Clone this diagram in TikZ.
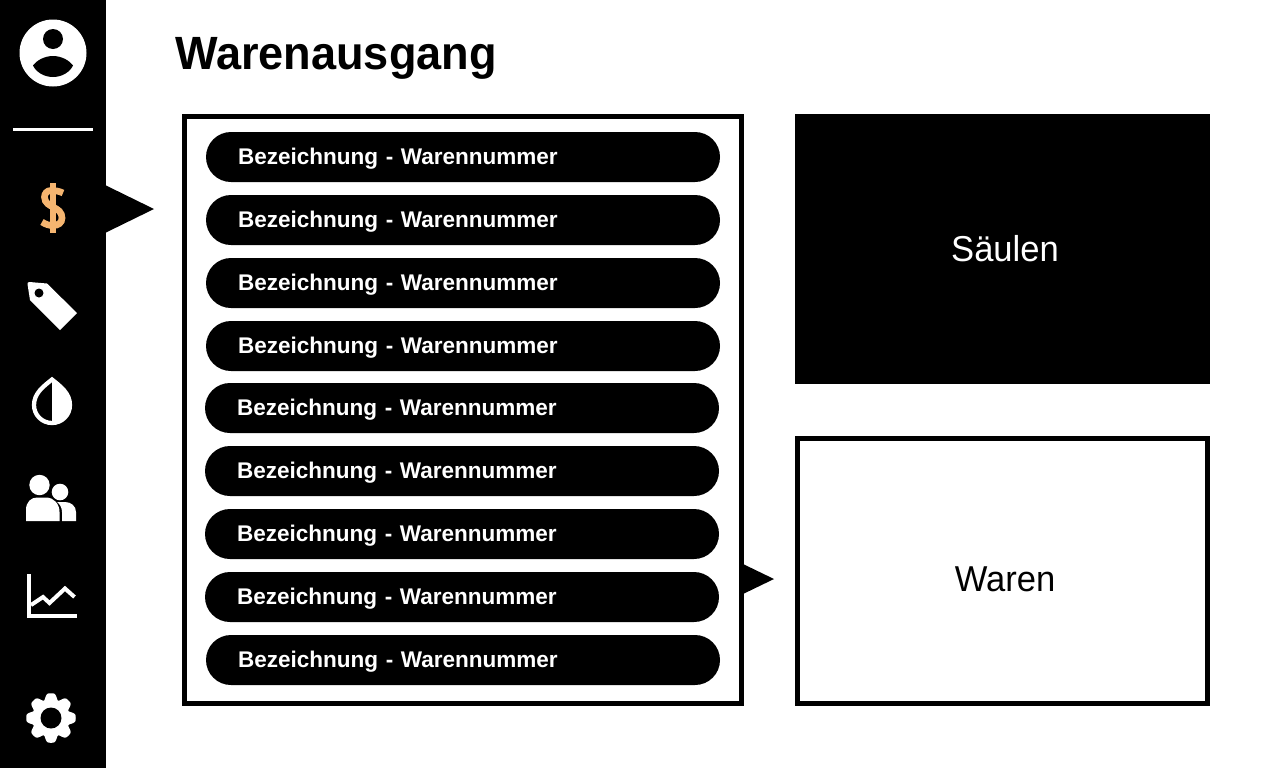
\documentclass[tikz,border=0pt]{standalone}
\usepackage{fontspec}
\setmainfont{Liberation Sans}
\newfontfamily\pillfont[FakeStretch=0.994]{Liberation Sans}
\newfontfamily\titlefont[FakeStretch=0.966]{Liberation Sans}
\newfontfamily\boxfont[FakeStretch=0.96]{Liberation Sans}
\definecolor{dollar}{HTML}{F5B570}
\tikzset{
  pill/.style={fill=black,text=white,rounded corners=18.75pt,minimum width=385.5pt,minimum height=37.5pt,
    text width=337.5pt,align=left,inner xsep=24pt,inner ysep=0pt,text height=11.5pt,text depth=0pt,
    font=\pillfont\fontsize{17pt}{18pt}\selectfont\bfseries},
  panel/.style={minimum width=311.25pt,minimum height=202.5pt,inner sep=0pt},
  panellabel/.style={anchor=base,inner sep=0pt,font=\boxfont\fontsize{27pt}{30pt}\selectfont},
  pointer/.style={fill=black,draw=none},
  icon/.style={fill=white,draw=none},
  iconline/.style={draw=white,fill=none},
}
\begin{document}
\begin{tikzpicture}[x=0.75pt,y=-0.75pt]
\useasboundingbox (0,0) rectangle (1280,768);
\fill[white] (0,0) rectangle (1280,768);
% sidebar
\fill[black] (0,0) rectangle (106,768);
\fill[pointer] (105,185) -- (154,209) -- (105,233) -- cycle;
% profile
\fill[icon] (53,53) circle (33.5);
\fill[black] (53,39) circle (10);
\fill[black] (33,65.5) .. controls (37,60) and (45,56) .. (53,56) .. controls (61,56) and (69,60) .. (73,65.5) .. controls (70,72) and (62,77) .. (53,77) .. controls (44,77) and (36,72) .. (33,65.5) -- cycle;
\fill[icon] (13,128) rectangle (93,131);
% dollar
\fill[dollar] (49.5,183) rectangle (56,233);
\draw[dollar,line width=5pt] (63,193) .. controls (59,191) and (55,190.5) .. (51,190.5) .. controls (47,190.5) and (44.5,193.5) .. (44.5,197) .. controls (44.5,203) and (50,205.5) .. (53,207) .. controls (58,209.5) and (62,212) .. (62,218) .. controls (62,223) and (58,225.5) .. (53,225.5) .. controls (49,225.5) and (46,224.5) .. (42,222);
% tag
\fill[icon] (29.5,282) -- (47,283.5) -- (77,313) -- (60,330) -- (30,300) -- (27.5,284) .. controls (27.3,282.8) and (28.2,281.9) .. (29.5,282) -- cycle;
\fill[black] (39,293) circle (4.5);
% drop
\path[draw=white,fill=black,line width=3.2pt] (52,379.5) .. controls (44,386) and (34,393) .. (34,405) .. controls (34,415) and (42,423) .. (52,423) .. controls (62,423) and (70,415) .. (70,405) .. controls (70,393) and (60,386) .. (52,379.5) -- cycle;
\fill[icon] (52,379.5) .. controls (60,386) and (70,393) .. (70,405) .. controls (70,415) and (62,423) .. (52,423) -- cycle;
% people
\fill[icon] (39.5,485) circle (10.2);
\fill[icon] (60,492) circle (8.3);
\fill[icon] (26,521) -- (26,510) .. controls (26,502) and (31,497.5) .. (37,497.5) -- (46,497.5) .. controls (54,497.5) and (59.5,504) .. (59.5,512) -- (59.5,521) -- cycle;
\fill[icon] (62,521) -- (62,512) .. controls (62,508) and (60,504) .. (57,502) -- (65,502) .. controls (71,502) and (76,506) .. (76,512) -- (76,521) -- cycle;
% chart
\fill[icon] (27,574) rectangle (31,618);
\fill[icon] (27,614) rectangle (77,618);
\draw[iconline,line width=3pt] (31,605) -- (43,597) -- (49.5,603) -- (65,588.5) -- (74.5,597);
% gear
\begin{scope}[shift={(51,718)}]
\fill[icon] plot[domain=0:360,samples=145,smooth] (\x:{22.6+3*cos(8*\x)-0.85*cos(16*\x)}) -- cycle;
\fill[black] (0,0) circle (10.5);
\end{scope}
% title
\node[anchor=base west,inner sep=0pt,font=\titlefont\fontsize{35pt}{40pt}\selectfont\bfseries] (title) at (175,69) {Warenausgang};
% list
\draw[line width=3.75pt] (184.5,116.5) rectangle (741.5,703.5);
\node[pill] (p1) at (463,157) {Bezeichnung - Warennummer};
\node[pill] (p2) at (463,220) {Bezeichnung - Warennummer};
\node[pill] (p3) at (463,283) {Bezeichnung - Warennummer};
\node[pill] (p4) at (463,346) {Bezeichnung - Warennummer};
\node[pill] (p5) at (462,408) {Bezeichnung - Warennummer};
\node[pill] (p6) at (462,471) {Bezeichnung - Warennummer};
\node[pill] (p7) at (462,534) {Bezeichnung - Warennummer};
\node[pill] (p8) at (462,597) {Bezeichnung - Warennummer};
\node[pill] (p9) at (463,660) {Bezeichnung - Warennummer};
\fill[pointer] (743,564) -- (774,579) -- (743,594) -- cycle;
% panels
\node[panel,fill=black] (saeulen) at (1002.5,249) {};
\node[panel,draw=black,line width=3.75pt,minimum width=307.5pt,minimum height=198.75pt] (waren) at (1002.5,571) {};
\node[panellabel,text=white] (saeulenlabel) at (1005,261) {Säulen};
\node[panellabel] (warenlabel) at (1005,591) {Waren};
\end{tikzpicture}
\end{document}
